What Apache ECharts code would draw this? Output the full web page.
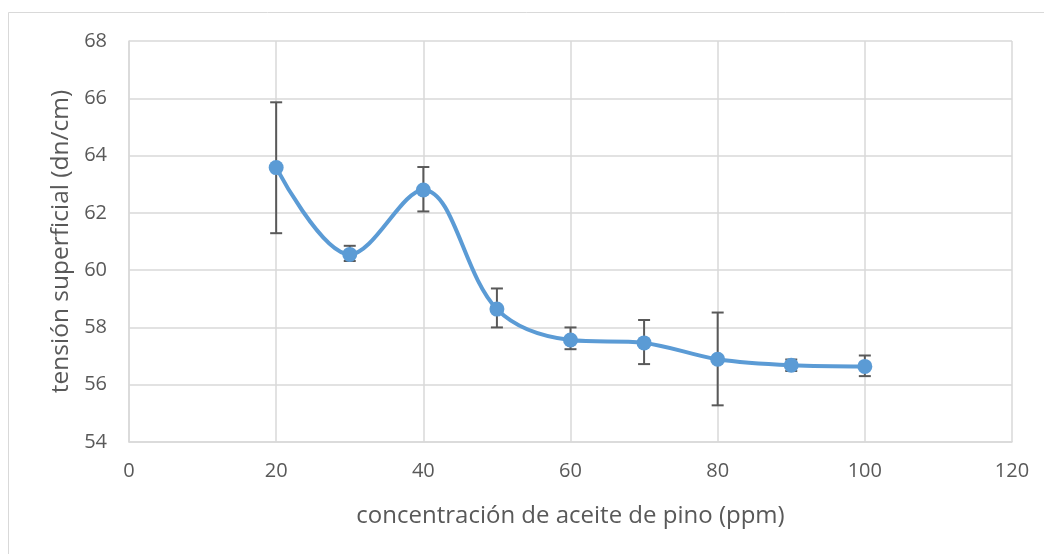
<!DOCTYPE html>
<html>
<head>
<meta charset="utf-8">
<script src="https://cdn.jsdelivr.net/npm/echarts@6/dist/echarts.min.js"></script>
<style>
html, body { margin: 0; padding: 0; background: #fff; }
#chart { width: 1044px; height: 554px; }
</style>
</head>
<body>
<div id="chart"></div>
<script>
var myChart = echarts.init(document.getElementById('chart'));

// concentración (ppm)
var concentracion = [20, 30, 40, 50, 60, 70, 80, 90, 100];
// tensión superficial media (dn/cm)
var tension = [63.58, 60.55, 62.8, 58.64, 57.56, 57.46, 56.89, 56.68, 56.64];
// extremos de las barras de error
var errSup = [65.86, 60.85, 63.6, 59.36, 58.0, 58.26, 58.52, 56.88, 57.02];
var errInf = [61.29, 60.32, 62.05, 58.0, 57.24, 56.72, 55.28, 56.48, 56.3];

var puntos = [];
var barras = [];
for (var i = 0; i < concentracion.length; i++) {
    puntos.push([concentracion[i], tension[i]]);
    barras.push([concentracion[i], errInf[i], errSup[i]]);
}

var fuente = 'Open Sans';
var gris = '#595959';

option = {
    animation: false,
    backgroundColor: '#fff',
    graphic: [{
        type: 'rect',
        shape: { x: 8.5, y: 12.5, width: 1040, height: 560 },
        style: { fill: 'none', stroke: '#d9d9d9', lineWidth: 1 },
        silent: true
    }],
    grid: {
        left: 129,
        right: 32,
        top: 41,
        bottom: 112
    },
    xAxis: {
        type: 'value',
        min: 0,
        max: 120,
        interval: 20,
        name: 'concentración de aceite de pino (ppm)',
        nameLocation: 'middle',
        nameGap: 62,
        nameTextStyle: { color: gris, fontSize: 24, fontFamily: fuente },
        axisLine: { lineStyle: { color: '#d9d9d9', width: 1.5 } },
        axisTick: { show: false },
        axisLabel: { color: gris, fontSize: 20, fontFamily: fuente, margin: 19 },
        splitLine: { lineStyle: { color: '#d9d9d9', width: 1.5 } }
    },
    yAxis: {
        type: 'value',
        min: 54,
        max: 68,
        interval: 2,
        name: 'tensión superficial (dn/cm)',
        nameLocation: 'middle',
        nameGap: 50,
        nameTextStyle: { color: gris, fontSize: 24.5, fontFamily: fuente },
        axisLine: { show: true, lineStyle: { color: '#d9d9d9', width: 1.5 } },
        axisTick: { show: false },
        axisLabel: { color: gris, fontSize: 20, fontFamily: fuente, margin: 22 },
        splitLine: { lineStyle: { color: '#d9d9d9', width: 1.5 } }
    },
    series: [{
        type: 'custom',
        z: 1,
        data: barras,
        renderItem: function (params, api) {
            var x = api.value(0);
            var bajo = api.coord([x, api.value(1)]);
            var alto = api.coord([x, api.value(2)]);
            var w = 6;
            var estilo = { stroke: '#595959', lineWidth: 2 };
            return {
                type: 'group',
                children: [
                    { type: 'line', shape: { x1: alto[0], y1: alto[1], x2: bajo[0], y2: bajo[1] }, style: estilo },
                    { type: 'line', shape: { x1: alto[0] - w, y1: alto[1], x2: alto[0] + w, y2: alto[1] }, style: estilo },
                    { type: 'line', shape: { x1: bajo[0] - w, y1: bajo[1], x2: bajo[0] + w, y2: bajo[1] }, style: estilo }
                ]
            };
        }
    }, {
        type: 'line',
        z: 3,
        data: puntos,
        smooth: 0.35,
        symbol: 'circle',
        symbolSize: 15,
        lineStyle: { color: '#5b9bd5', width: 4 },
        itemStyle: { color: '#5b9bd5' }
    }]
};

myChart.setOption(option);
</script>
</body>
</html>
